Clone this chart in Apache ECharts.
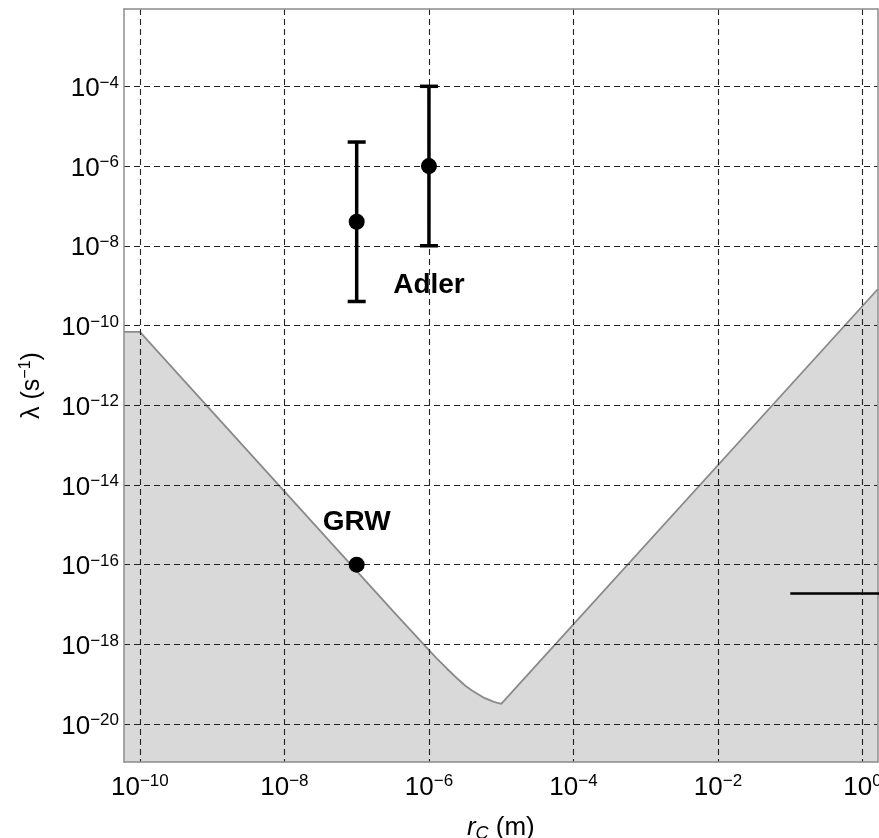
<!DOCTYPE html>
<html><head><meta charset="utf-8">
<script src="https://cdn.jsdelivr.net/npm/echarts@6/dist/echarts.min.js"></script>
<style>html,body{margin:0;padding:0;background:#fff}#c{width:879px;height:838px}</style>
</head><body><div id="c"></div><script>
// ---- data (real values, log-log plot) ----
const xTicks = [1e-10, 1e-8, 1e-6, 1e-4, 1e-2, 1];
const yTicks = [1e-20, 1e-18, 1e-16, 1e-14, 1e-12, 1e-10, 1e-8, 1e-6, 1e-4];
const xRange = [6.03e-11, 1.62];
const yRange = [1.12e-21, 8.7e-3];

// excluded-region boundary (gray)
const boundaryR      = [6.03e-11, 1e-10, 1e-8, 3.16e-7, 1e-6, 1.26e-6, 1.78e-6, 2.51e-6, 3.16e-6, 3.98e-6, 5.62e-6, 7.94e-6, 1e-5, 1.62];
const boundaryLambda = [6.9e-11, 6.9e-11, 6.9e-15, 6.9e-18, 7.2e-19, 4.6e-19, 2.45e-19, 1.35e-19, 9.3e-20, 6.9e-20, 4.7e-20, 3.6e-20, 3.2e-20, 8.1e-10];

// Adler estimates with error bars
const adlerR      = [1e-7, 1e-6];
const adlerLambda = [4e-8, 1e-6];
const adlerLow    = [4e-10, 1e-8];
const adlerHigh   = [4e-6, 1e-4];

// GRW value
const grwR = [1e-7];
const grwLambda = [1e-16];

// horizontal bound segment on the right
const segR = [0.1, 10];
const segLambda = [1.9e-17, 1.9e-17];

// text annotations
const noteText   = ['Adler', 'GRW'];
const noteR      = [1e-6, 1e-7];
const noteLambda = [1e-9, 1.17e-15];

// ---- build ----
const L = Math.log10;
const FONT = "'Liberation Sans', Arial, Helvetica, sans-serif";
const fmt = v => { const e = Math.round(v); return '10{s|' + (e < 0 ? '\u2212' + (-e) : e) + '}'; };
const labelRich = { s: { fontSize: 17, fontFamily: FONT, color: '#000', padding: [0, 0, 12, 0] } };
const gridLine = { show: true, lineStyle: { color: '#222', width: 1.1, type: [6, 4] } };
const borderLine = { show: true, onZero: false, lineStyle: { color: '#8c8c8c', width: 1.5 } };

const chart = echarts.init(document.getElementById('c'), null, { renderer: 'canvas' });
chart.setOption({
  animation: false,
  backgroundColor: '#fff',
  textStyle: { fontFamily: FONT },
  grid: { left: 124, right: 1.3, top: 9, bottom: 76, containLabel: false, outerBoundsMode: 'none' },
  xAxis: [{
    type: 'value', min: L(xRange[0]), max: L(xRange[1]), z: 5,
    axisLine: borderLine, axisTick: { show: false, customValues: xTicks.map(L) },
    axisLabel: { customValues: xTicks.map(L), formatter: fmt, rich: labelRich, fontSize: 26, color: '#000', fontFamily: FONT, margin: 11 },
    splitLine: gridLine,
    name: '{i|r}{sub|C} (m)', nameLocation: 'middle', nameGap: 51,
    nameTextStyle: { fontSize: 26, color: '#000', fontFamily: FONT, rich: {
      i: { fontSize: 26, fontStyle: 'italic', fontFamily: FONT, color: '#000' },
      sub: { fontSize: 18, fontStyle: 'italic', fontFamily: FONT, color: '#000', padding: [12, 0, 0, 0] } } }
  }, {
    type: 'value', position: 'top', min: L(xRange[0]), max: L(xRange[1]), z: 5,
    axisLine: borderLine, axisTick: { show: false }, axisLabel: { show: false }, splitLine: { show: false }
  }],
  yAxis: [{
    type: 'value', min: L(yRange[0]), max: L(yRange[1]), z: 5,
    axisLine: borderLine, axisTick: { show: false, customValues: yTicks.map(L) },
    axisLabel: { customValues: yTicks.map(L), formatter: fmt, rich: labelRich, fontSize: 26, color: '#000', fontFamily: FONT, margin: 5, padding: [5, 0, 0, 0] },
    splitLine: gridLine,
    name: '\u03bb (s{s|\u22121})', nameLocation: 'middle', nameGap: 78,
    nameTextStyle: { fontSize: 25, color: '#000', fontFamily: FONT, rich: {
      s: { fontSize: 16, fontFamily: FONT, color: '#000', padding: [0, 0, 12, 0] } } }
  }, {
    type: 'value', position: 'right', min: L(yRange[0]), max: L(yRange[1]), z: 5,
    axisLine: borderLine, axisTick: { show: false }, axisLabel: { show: false }, splitLine: { show: false }
  }],
  series: [
    {
      type: 'line', z: 1, xAxisIndex: 0, yAxisIndex: 0,
      data: boundaryR.map((r, i) => [L(r), L(boundaryLambda[i])]),
      symbol: 'none', lineStyle: { color: '#8a8a8a', width: 1.8 },
      areaStyle: { color: '#d9d9d9', opacity: 1, origin: 'start' },
      clip: true
    },
    {
      type: 'custom', z: 10,
      data: adlerR.map((r, i) => [L(r), L(adlerLambda[i]), L(adlerLow[i]), L(adlerHigh[i])]),
      renderItem: (params, api) => {
        const lo = api.coord([api.value(0), api.value(2)]);
        const hi = api.coord([api.value(0), api.value(3)]);
        const w = 9, st = { stroke: '#000', lineWidth: 3.5 };
        return { type: 'group', children: [
          { type: 'line', shape: { x1: lo[0], y1: lo[1], x2: hi[0], y2: hi[1] }, style: st },
          { type: 'line', shape: { x1: lo[0] - w, y1: lo[1], x2: lo[0] + w, y2: lo[1] }, style: st },
          { type: 'line', shape: { x1: hi[0] - w, y1: hi[1], x2: hi[0] + w, y2: hi[1] }, style: st }
        ] };
      }
    },
    {
      type: 'scatter', z: 11, symbolSize: 16, itemStyle: { color: '#000', opacity: 1 },
      data: adlerR.map((r, i) => [L(r), L(adlerLambda[i])]).concat(grwR.map((r, i) => [L(r), L(grwLambda[i])]))
    },
    {
      type: 'line', z: 10, symbol: 'none', clip: true,
      lineStyle: { color: '#000', width: 2.5 },
      data: segR.map((r, i) => [L(r), L(segLambda[i])])
    },
    {
      type: 'scatter', z: 12, symbolSize: 0, itemStyle: { opacity: 1, color: '#000' },
      data: noteText.map((t, i) => ({ value: [L(noteR[i]), L(noteLambda[i])], name: t })),
      label: { show: true, position: 'inside', formatter: p => p.name, fontSize: 28, fontWeight: 'bold', color: '#000', opacity: 1, fontFamily: FONT }
    }
  ]
});
</script></body></html>
